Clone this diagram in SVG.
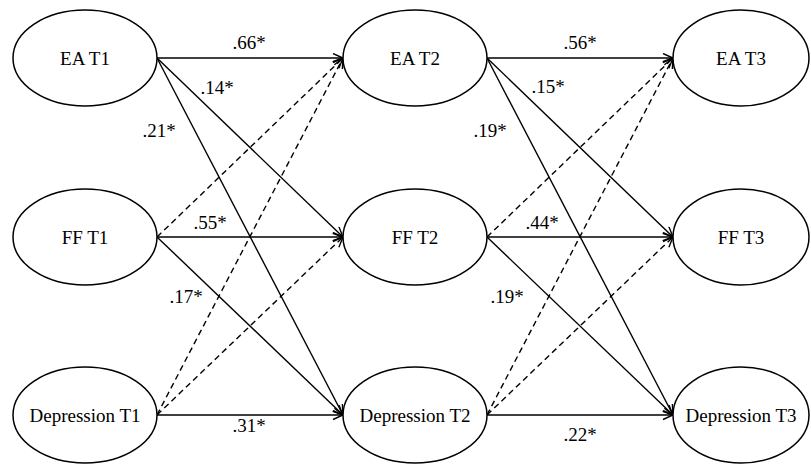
<svg xmlns="http://www.w3.org/2000/svg" width="811" height="464" viewBox="0 0 811 464" font-family="Liberation Serif, Times New Roman, serif">
<style>
.n{fill:#fff;stroke:#000;stroke-width:1.5}
.t{font-size:19px;fill:#000;text-anchor:middle}
.e{stroke:#000;stroke-width:1.4;fill:none;marker-end:url(#ah)}
.d{stroke-dasharray:6 4}
</style>
<defs>
<marker id="ah" markerUnits="userSpaceOnUse" markerWidth="14" markerHeight="12" refX="11" refY="5" orient="auto">
<path d="M1,0.5 L11,5 L1,9.5" fill="none" stroke="#000" stroke-width="1.4"/>
</marker>
</defs>
<rect width="811" height="464" fill="#fff"/>
<g id="connectors">
<line class="e" x1="157" y1="58" x2="343" y2="58"/>
<line class="e" x1="157" y1="58" x2="343" y2="237"/>
<line class="e" x1="157" y1="58" x2="343" y2="415"/>
<line class="e" x1="157" y1="237" x2="343" y2="237"/>
<line class="e" x1="157" y1="237" x2="343" y2="415"/>
<line class="e" x1="157" y1="415" x2="343" y2="415"/>
<line class="e d" x1="157" y1="237" x2="343" y2="58"/>
<line class="e d" x1="157" y1="415" x2="343" y2="58"/>
<line class="e d" x1="157" y1="415" x2="343" y2="237"/>
<line class="e" x1="487" y1="58" x2="673" y2="58"/>
<line class="e" x1="487" y1="58" x2="673" y2="237"/>
<line class="e" x1="487" y1="58" x2="673" y2="415"/>
<line class="e" x1="487" y1="237" x2="673" y2="237"/>
<line class="e" x1="487" y1="237" x2="673" y2="415"/>
<line class="e" x1="487" y1="415" x2="673" y2="415"/>
<line class="e d" x1="487" y1="237" x2="673" y2="58"/>
<line class="e d" x1="487" y1="415" x2="673" y2="58"/>
<line class="e d" x1="487" y1="415" x2="673" y2="237"/>
</g>
<g id="labels">
<text class="t" x="249" y="49">.66*</text>
<text class="t" x="217" y="94">.14*</text>
<text class="t" x="159" y="137">.21*</text>
<text class="t" x="210" y="229">.55*</text>
<text class="t" x="186" y="303">.17*</text>
<text class="t" x="249" y="432">.31*</text>
<text class="t" x="580" y="49">.56*</text>
<text class="t" x="548" y="93">.15*</text>
<text class="t" x="490" y="137">.19*</text>
<text class="t" x="542" y="229">.44*</text>
<text class="t" x="507" y="303">.19*</text>
<text class="t" x="580" y="441">.22*</text>
</g>
<g id="ea1"><ellipse class="n" cx="85" cy="58" rx="72" ry="48"/><text class="t" x="85" y="65">EA T1</text></g>
<g id="ff1"><ellipse class="n" cx="85" cy="237" rx="72" ry="48"/><text class="t" x="85" y="244">FF T1</text></g>
<g id="dep1"><ellipse class="n" cx="85" cy="415" rx="72" ry="48"/><text class="t" x="85" y="422">Depression T1</text></g>
<g id="ea2"><ellipse class="n" cx="415" cy="58" rx="72" ry="48"/><text class="t" x="415" y="65">EA T2</text></g>
<g id="ff2"><ellipse class="n" cx="415" cy="237" rx="72" ry="48"/><text class="t" x="415" y="244">FF T2</text></g>
<g id="dep2"><ellipse class="n" cx="415" cy="415" rx="72" ry="48"/><text class="t" x="415" y="422">Depression T2</text></g>
<g id="ea3"><ellipse class="n" cx="741" cy="58" rx="68" ry="48"/><text class="t" x="741" y="65">EA T3</text></g>
<g id="ff3"><ellipse class="n" cx="741" cy="237" rx="68" ry="48"/><text class="t" x="741" y="244">FF T3</text></g>
<g id="dep3"><ellipse class="n" cx="741" cy="415" rx="68" ry="48"/><text class="t" x="741" y="422">Depression T3</text></g>
</svg>
